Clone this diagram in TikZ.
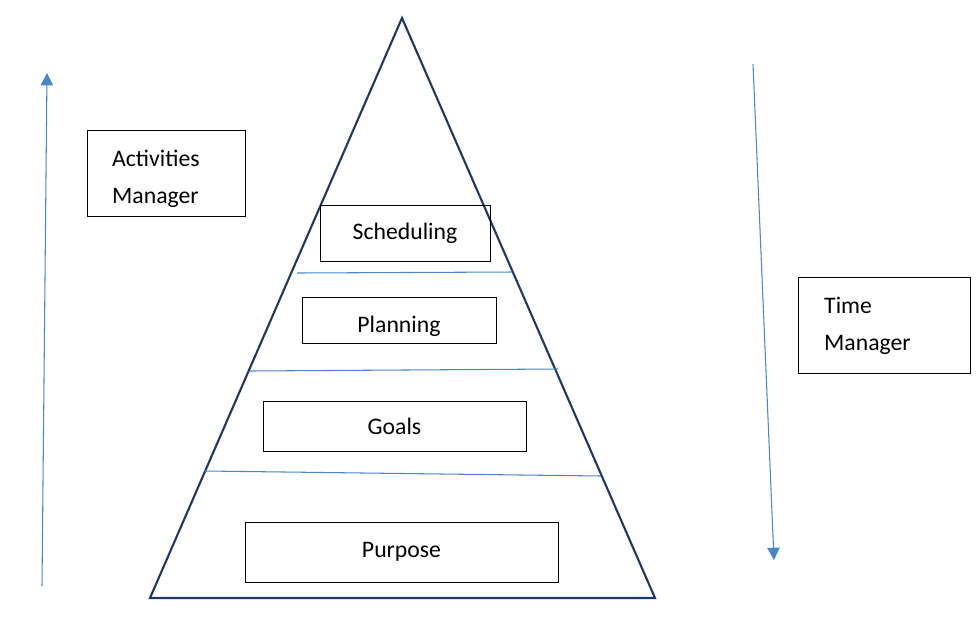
\documentclass[tikz,border=0pt]{standalone}
\usepackage{fontspec}
\setmainfont{Carlito}
\usetikzlibrary{positioning, arrows.meta, calc}
\definecolor{pyramid}{HTML}{203864}
\definecolor{divider}{HTML}{4A86C8}
\tikzset{
    x=0.02cm, y=-0.02cm,
    every node/.style={font=\fontsize{13.5}{21}\selectfont},
    levelbox/.style={draw, thin, inner sep=0pt}, % Boxes inside the pyramid
    sidebox/.style={draw, thin, inner sep=0pt},
    divline/.style={divider, semithick},
    flowarrow/.style={divider, semithick, -{Triangle[length=7pt,width=7pt]}},
}

\begin{document}
\begin{tikzpicture}
            \useasboundingbox (0,0) rectangle (980,620);
            % pyramid
            \coordinate (apex)  at (402,18);
            \coordinate (bl)    at (150,598);
            \coordinate (br)    at (655,598);
            \draw[pyramid, line width=1.2pt, line join=miter] (apex) -- (br) -- (bl) -- cycle;
            % dividers
            \coordinate (d1l) at (297,273); \coordinate (d1r) at (512,272);
            \coordinate (d2l) at (250,371); \coordinate (d2r) at (558,369);
            \coordinate (d3l) at (205,471); \coordinate (d3r) at (601,476);
            \draw[divline] (d1l) -- (d1r);
            \draw[divline] (d2l) -- (d2r);
            \draw[divline] (d3l) -- (d3r);
            % levels
            \node[levelbox, minimum width=170*0.02cm, minimum height=56*0.02cm] (sched) at (405,233) {Scheduling};
            \node[levelbox, minimum width=194*0.02cm, minimum height=46*0.02cm] (plan) at (399,320) {};
            \node[anchor=base] (plantxt) at (399,332) {Planning};
            \fill[white] (300,344.5) rectangle (500,352);
            \node[levelbox, minimum width=263*0.02cm, minimum height=50*0.02cm] (goals) at (394.5,426) {Goals};
            \node[levelbox, minimum width=313*0.02cm, minimum height=60*0.02cm] (purp) at (401.5,552) {Purpose};
            % side labels
            \node[sidebox, minimum width=158*0.02cm, minimum height=86*0.02cm] (act) at (166,173) {};
            \node[anchor=base west] (acttxt1) at (106,166) {Activities};
            \node[anchor=base west] (acttxt2) at (106,203) {Manager};
            \fill[white] (86,217) rectangle (250,225);
            \node[sidebox, minimum width=172*0.02cm, minimum height=96*0.02cm] (time) at (884,325) {};
            \node[anchor=base west] (timetxt1) at (818,313) {Time};
            \node[anchor=base west] (timetxt2) at (818,350) {Manager};
            % arrows
            \coordinate (upstart) at (42,586);
            \coordinate (upend)   at (47,73);
            \coordinate (dnstart) at (753,64);
            \coordinate (dnend)   at (774,560);
            \draw[flowarrow] (upstart) -- (upend);
            \draw[flowarrow] (dnstart) -- (dnend);
\end{tikzpicture}
\end{document}
